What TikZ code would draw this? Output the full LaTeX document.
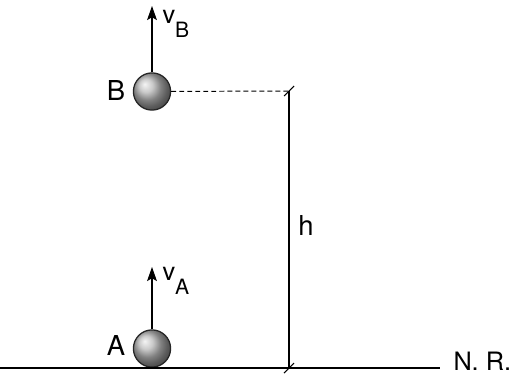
\documentclass[tikz,border=0pt]{standalone}
\usepackage{fontspec}
\setmainfont{TeX Gyre Heros}
\usetikzlibrary{arrows.meta, positioning}

\newcommand{\vel}[1]{v\raisebox{-10.5pt}{\fontsize{15}{17}\selectfont #1}}

\begin{document}
\begin{tikzpicture}[x=0.025cm, y=-0.025cm, line width=0.75pt,
    vec/.style={-{Stealth[length=10pt, width=7pt, inset=2pt]}},
    ball/.style={circle, draw=black!85, line width=0.9pt, minimum size=0.93cm, inner sep=0pt, ball color=gray!55},
    lbl/.style={font=\fontsize{19.5}{22}\selectfont, inner sep=0pt},
    vlbl/.style={font=\fontsize{18}{20}\selectfont, inner sep=0pt, anchor=base west}]
    \useasboundingbox (0,0) rectangle (512,376);

    % Nodes
    \node[ball] (A) at (152, 348.5) {};
    \node[ball] (B) at (152, 91.5) {};
    \node[lbl] (Alab) at (116, 345) {A};
    \node[lbl] (Blab) at (116, 91) {B};
    \coordinate (vAtip) at (152, 267);
    \coordinate (vBtip) at (152, 6);
    \node[vlbl] (vA) at (162, 280) {\vel{A}};
    \node[vlbl] (vB) at (162, 23) {\vel{B}};

    % Ground
    \coordinate (g0) at (0, 368);
    \coordinate (g1) at (440, 368);
    \node[lbl, font=\fontsize{18}{20}\selectfont, anchor=base west] (NR) at (453, 370) {N. R.};

    % Height
    \coordinate (hT) at (289, 91);
    \coordinate (hB) at (289, 368);
    \node[lbl] (h) at (306, 225) {h};

    % Edges
    \draw (g0) -- (g1);
    \draw[vec] (A) -- (vAtip);
    \draw[vec] (B) -- (vBtip);
    \draw[dashed, line width=0.7pt, dash pattern=on 3.5pt off 2.2pt] (B) -- (hT);
    \draw (hT) -- (hB);
    \draw ([shift={(-5,5)}]hT) -- ([shift={(5,-5)}]hT);
    \draw ([shift={(-5,5)}]hB) -- ([shift={(5,-5)}]hB);
\end{tikzpicture}
\end{document}
